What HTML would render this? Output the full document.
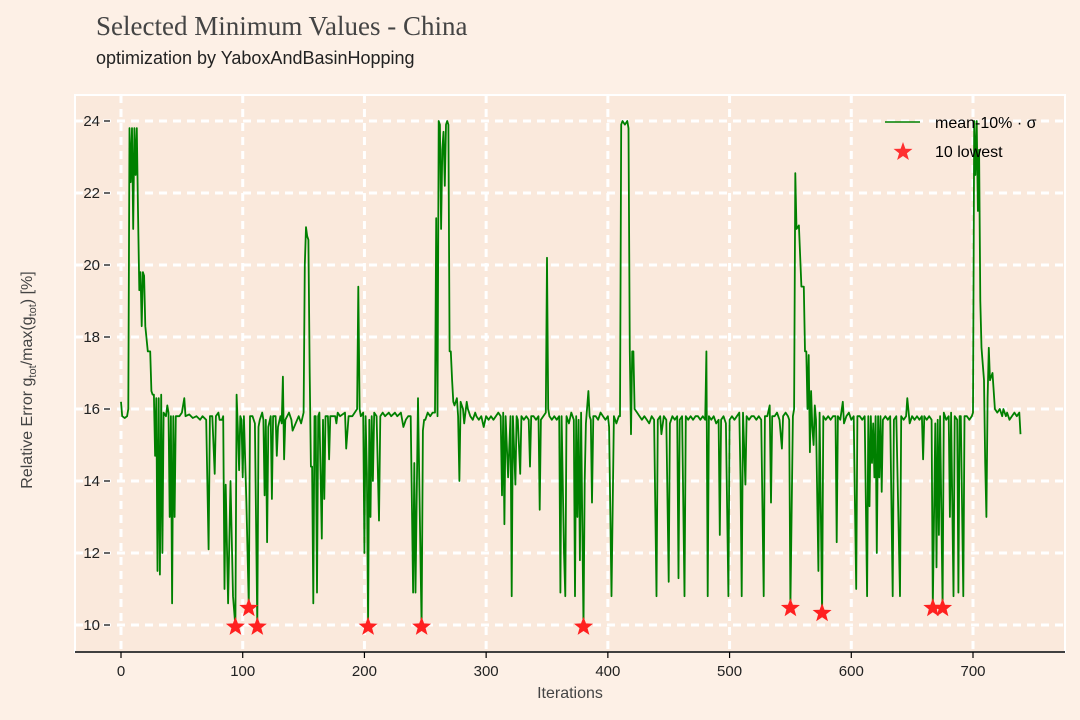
<!DOCTYPE html>
<html><head><meta charset="utf-8"><style>
html,body{margin:0;padding:0;background:#fdf0e6;}
svg{display:block;font-family:"Liberation Sans",sans-serif;}
</style></head><body>
<svg id="chart" width="1080" height="720" viewBox="0 0 1080 720">
<rect x="0" y="0" width="1080" height="720" fill="#fdf0e6"/>
<text x="96" y="35" font-family="'Liberation Serif',serif" font-size="27" fill="#444">Selected Minimum Values - China</text>
<text x="96" y="64" font-size="18" fill="#222">optimization by YaboxAndBasinHopping</text>
<rect x="75" y="95" width="990" height="557" fill="#fae9dc" stroke="#fff" stroke-width="2"/>
<g id="grid"></g>
<g id="ticks"></g>
<line x1="75" y1="652" x2="1065" y2="652" stroke="#000" stroke-width="1.5"/>
<g id="series"></g>
<text x="570" y="698" text-anchor="middle" font-size="16" fill="#444">Iterations</text>
<text transform="translate(32,380) rotate(-90)" text-anchor="middle" font-size="16" fill="#444">Relative Error g<tspan font-size="11" dy="4">tot</tspan><tspan dy="-4">/max(g</tspan><tspan font-size="11" dy="4">tot</tspan><tspan dy="-4">) [%]</tspan></text>
<g>
<line x1="885" y1="122" x2="920" y2="122" stroke="#008000" stroke-width="1.5"/>
<text x="935" y="128" font-size="16" fill="#000">mean-10% · σ</text>
<polygon points="903,142 905.4,148.7 912.5,148.9 906.9,153.2 908.9,160 903,156 897.1,160 899.1,153.2 893.5,148.9 900.6,148.7" fill="#ff3030"/>
<text x="935" y="157" font-size="16" fill="#000">10 lowest</text>
</g>
</svg>
<script>
const iters=[0,1,3,5,6,7,8,9,10,11,12,13,14,15,16,17,18,19,20,22,24,25,26,27,28,29,30,31,32,33,34,35,37,38,39,40,41,42,43,44,45,48,50,52,53,56,59,62,65,67,70,72,73,75,77,78,80,81,83,84,85,86,88,90,92,94,95,96,97,98,99,100,101,103,105,106,108,110,112,113,114,116,117,118,119,120,121,123,124,125,127,128,129,131,132,133,134,135,138,140,141,146,148,150,151,152,153,154,155,156,157,158,159,160,161,162,163,165,166,167,168,170,171,172,174,176,177,178,180,184,185,187,190,192,194,195,196,197,199,200,201,202,203,204,205,206,207,208,210,212,213,215,217,220,222,225,227,230,232,234,236,238,240,241,242,244,246,247,248,249,250,252,254,256,258,259,260,261,262,263,264,265,266,267,268,269,270,271,272,273,274,276,277,278,279,281,282,284,285,287,289,291,292,294,296,298,300,302,304,306,308,310,312,313,314,315,316,318,320,321,322,324,325,326,328,329,331,333,335,336,337,339,341,343,344,345,347,349,350,351,352,354,356,358,360,361,362,364,365,366,368,370,372,373,374,375,376,377,378,379,380,381,382,384,385,386,387,388,390,392,394,396,398,400,401,403,405,407,409,410,411,412,414,416,417,418,419,420,421,422,424,426,428,430,432,434,436,438,440,441,443,444,446,448,450,451,453,455,457,458,459,461,463,464,466,468,470,472,474,476,478,480,481,482,483,485,487,489,491,492,493,495,497,499,500,502,504,506,508,509,510,511,513,514,516,518,520,522,524,526,528,529,531,533,534,535,537,539,541,543,544,546,548,549,550,552,553,554,555,557,559,561,562,563,564,565,566,567,568,569,570,571,573,574,575,576,577,579,581,583,585,587,588,589,591,593,594,596,598,600,602,604,605,607,609,611,613,614,615,616,617,618,619,620,621,622,623,624,625,626,628,630,632,634,635,637,640,641,643,645,646,648,650,652,654,656,658,659,660,662,664,666,667,669,670,671,672,673,675,676,678,680,681,682,684,685,687,688,689,690,692,693,695,697,699,700,701,702,703,704,705,706,707,709,710,711,712,713,714,716,718,720,722,724,725,727,728,730,732,734,736,738,739];
const values=[16.2,15.8,15.75,15.8,16.0,23.8,22.3,23.8,21.0,23.8,22.5,23.8,21.5,19.3,19.8,18.3,19.8,19.7,18.3,17.6,17.6,16.5,16.4,16.4,14.7,16.3,11.5,16.3,11.4,16.4,12.0,15.9,15.8,16.1,15.9,13.0,15.8,10.6,15.8,13.0,15.8,15.8,15.9,16.3,15.8,15.85,15.75,15.8,15.7,15.8,15.7,12.1,15.8,15.8,14.2,15.8,15.9,15.7,15.7,15.8,11.0,13.9,10.6,14.0,10.8,9.95,16.4,15.5,14.3,15.8,15.7,14.1,15.8,13.4,10.5,15.8,15.8,15.6,9.95,15.5,15.7,15.9,15.7,13.6,15.7,12.3,15.5,15.8,13.5,15.8,15.8,14.7,15.5,15.8,15.6,16.9,14.6,15.7,15.9,15.7,15.4,15.8,15.6,15.9,20.0,21.05,20.8,20.7,17.0,14.4,14.4,10.6,15.8,15.8,10.9,15.8,15.9,12.4,15.7,13.5,15.8,15.8,14.6,15.8,15.8,15.8,15.6,15.9,15.8,15.9,14.9,15.8,15.8,15.9,16.0,19.4,16.0,15.8,15.9,12.0,15.8,14.2,9.95,15.7,13.0,15.8,14.0,15.9,15.8,12.9,15.8,15.9,15.8,15.9,15.8,15.9,15.8,15.9,15.5,15.7,15.8,15.8,10.9,14.5,10.9,16.3,12.0,9.95,15.4,15.7,15.7,15.9,15.8,15.9,15.9,21.3,15.8,24.0,23.9,21.0,23.2,23.7,22.2,23.9,24.0,23.9,17.6,17.6,16.8,16.2,16.1,16.3,15.8,14.0,16.2,16.0,15.6,16.2,16.0,15.8,15.7,15.9,15.8,15.7,15.8,15.5,15.8,15.7,15.8,15.7,15.8,15.9,15.8,13.6,15.9,12.8,15.8,14.1,15.8,10.8,15.8,13.9,15.8,15.7,14.2,15.8,15.7,15.8,15.7,14.4,15.8,15.8,15.7,15.8,13.2,15.7,15.8,15.9,20.2,16.0,15.8,15.7,15.8,15.7,15.8,10.9,15.8,12.0,10.8,15.8,15.6,15.9,15.7,10.8,15.8,13.0,15.7,11.8,15.9,12.8,9.95,14.0,15.6,16.5,15.8,15.7,13.4,15.8,15.8,15.7,15.9,15.8,15.7,15.8,15.5,10.8,15.8,15.6,15.8,15.8,23.9,24.0,23.9,24.0,23.8,17.6,15.3,17.6,17.6,16.0,15.9,15.8,15.7,15.8,15.7,15.6,15.8,15.7,10.8,15.7,15.8,15.3,15.8,15.7,11.2,15.6,15.8,15.7,15.8,11.3,15.7,15.8,10.8,15.8,15.7,15.8,15.7,15.8,15.8,15.7,15.8,15.7,17.6,10.8,15.8,15.7,15.8,15.6,15.7,12.5,15.7,15.8,15.6,10.8,15.7,15.8,15.7,15.8,15.9,14.1,10.8,15.9,13.9,15.8,15.7,15.8,15.8,15.7,15.8,15.7,10.8,15.8,15.8,16.1,13.4,15.8,15.8,15.9,15.7,14.9,15.8,15.9,15.8,15.7,10.5,15.8,16.0,22.55,21.0,21.1,19.4,19.4,17.6,17.6,16.0,17.5,14.8,16.5,15.5,15.0,16.1,15.7,11.5,15.9,13.0,10.3,15.8,15.7,15.8,15.7,15.8,15.8,12.3,15.8,15.7,16.2,15.6,15.8,15.9,15.7,15.8,11.0,15.8,15.8,15.7,15.8,10.8,15.8,13.3,15.8,14.5,15.6,14.1,15.8,12.0,15.8,14.1,15.8,13.7,15.7,15.8,15.7,15.8,10.8,15.7,15.8,10.8,15.8,15.7,15.8,16.3,15.6,15.8,15.7,15.8,15.7,15.8,14.6,15.8,15.7,15.8,15.7,10.5,15.6,11.6,15.7,12.5,15.8,10.5,15.9,15.7,15.8,13.0,15.9,10.8,15.8,15.7,10.9,15.8,15.8,10.8,15.8,15.8,15.7,15.8,15.9,24.0,22.5,24.0,21.5,23.2,19.0,17.7,16.8,14.5,13.0,16.3,17.7,16.8,17.0,16.0,15.9,16.0,15.8,16.0,15.8,15.9,15.7,15.8,15.9,15.8,15.9,15.3];
const lowestIters=[94,105,112,203,247,380,550,576,667,675];
const lowestValues=[9.95,10.47,9.95,9.95,9.95,9.95,10.47,10.33,10.47,10.47];
const xTicks=[0,100,200,300,400,500,600,700];
const yTicks=[10,12,14,16,18,20,22,24];

const NS='http://www.w3.org/2000/svg';
function xs(v){return 121+v*(973-121)/700;}
function ys(v){return 625-(v-10)*(625-121)/14;}
function mk(tag,attrs,parent){const e=document.createElementNS(NS,tag);for(const k in attrs)e.setAttribute(k,attrs[k]);parent.appendChild(e);return e;}
const grid=document.getElementById('grid'),ticks=document.getElementById('ticks'),series=document.getElementById('series');
xTicks.forEach(t=>{
  const l=mk('line',{x1:xs(t),x2:xs(t),y1:95,y2:652,stroke:'#fff','stroke-width':3,'stroke-dasharray':'8,6'},grid);
  
  
  const tk=mk('line',{x1:xs(t),x2:xs(t),y1:652,y2:658,stroke:'#000','stroke-width':1.2},ticks);
  
  
  const tx=mk('text',{x:xs(t),y:676,'text-anchor':'middle','font-size':15,fill:'#222'},ticks);
  tx.textContent=t;
  
  
});
yTicks.forEach(t=>{
  const l=mk('line',{x1:75,x2:1065,y1:ys(t),y2:ys(t),stroke:'#fff','stroke-width':3,'stroke-dasharray':'8,6'},grid);
  
  
  const tk=mk('line',{x1:104,x2:110,y1:ys(t),y2:ys(t),stroke:'#000','stroke-width':1.2},ticks);
  
  
  const tx=mk('text',{x:100,y:ys(t)+5,'text-anchor':'end','font-size':15,fill:'#222'},ticks);
  tx.textContent=t;
  
  
});
let d='';
iters.forEach((it,i)=>{d+=(i?'L':'M')+xs(it).toFixed(1)+','+ys(values[i]).toFixed(1);});
const p=mk('path',{d:d,fill:'none',stroke:'#008000','stroke-width':1.8,'stroke-linejoin':'round'},series);


function star(cx,cy,r){let pts=[];for(let k=0;k<10;k++){const a=-Math.PI/2+k*Math.PI/5;const rr=k%2?r*0.42:r;pts.push((cx+rr*Math.cos(a)).toFixed(1)+','+(cy+rr*Math.sin(a)).toFixed(1));}return pts.join(' ');}
lowestIters.forEach((it,i)=>{
  const s=mk('polygon',{points:star(xs(it),ys(lowestValues[i]),10),fill:'#ff2020'},series);
  
  
});
</script>
</body></html>
